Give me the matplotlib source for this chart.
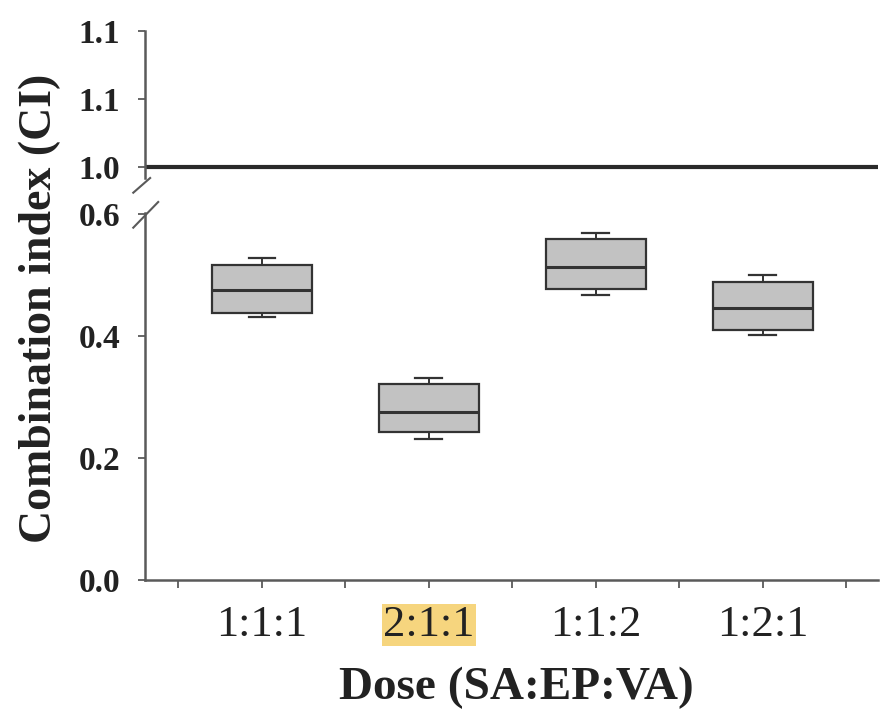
import matplotlib
matplotlib.use("Agg")
import matplotlib.pyplot as plt
import numpy as np

plt.rcParams['font.family'] = ['Liberation Serif', 'DejaVu Serif']

# box plot values
doses = ['1:1:1', '2:1:1', '1:1:2', '1:2:1']
med = [0.475, 0.276, 0.514, 0.446]
q1 = [0.438, 0.243, 0.478, 0.410]
q3 = [0.517, 0.321, 0.559, 0.489]
whislo = [0.431, 0.231, 0.468, 0.402]
whishi = [0.528, 0.332, 0.570, 0.500]

low_ticks = [0.0, 0.2, 0.4, 0.6]
low_labels = ['0.0', '0.2', '0.4', '0.6']
up_ticks = [1.0, 1.05, 1.1]
up_labels = ['1.0', '1.1', '1.1']
ci_line = 1.0
highlight = '2:1:1'

spine_col = '#5a5a5a'
W, H = 892, 711
fig = plt.figure(figsize=(W / 100, H / 100), dpi=100)

def px_axes(x0, x1, y0, y1):
    # pixel box (top-left origin) -> figure fraction
    return fig.add_axes([x0 / W, 1 - y1 / H, (x1 - x0) / W, (y1 - y0) / H])

ax_lo = px_axes(145, 878, 213, 580)
ax_up = px_axes(145, 878, 31, 178)

pos = np.arange(1, len(doses) + 1)
stats = []
for i in range(len(doses)):
    stats.append(dict(med=med[i], q1=q1[i], q3=q3[i],
                      whislo=whislo[i], whishi=whishi[i], fliers=[]))

ax_lo.bxp(stats, positions=pos, widths=0.6, patch_artist=True,
          showfliers=False, capwidths=0.16,
          boxprops=dict(facecolor='#c2c2c2', edgecolor='#333333', linewidth=1.6),
          medianprops=dict(color='#333333', linewidth=2.2),
          whiskerprops=dict(color='#333333', linewidth=1.4),
          capprops=dict(color='#333333', linewidth=1.6))

xlim = (0.30, 4.69)
for ax in (ax_lo, ax_up):
    ax.set_xlim(*xlim)
    ax.spines['top'].set_visible(False)
    ax.spines['right'].set_visible(False)
    ax.spines['left'].set_color(spine_col)
    ax.spines['left'].set_linewidth(1.8)
    ax.tick_params(axis='y', direction='out', length=5, width=1.3,
                   color=spine_col, labelsize=24, pad=13, labelcolor='#222222')

ax_lo.spines['bottom'].set_color(spine_col)
ax_lo.spines['bottom'].set_linewidth(1.8)
ax_lo.set_ylim(0, 0.602)
ax_lo.set_yticks(low_ticks)
ax_lo.set_yticklabels(low_labels, fontweight='bold')
ax_lo.set_xticks(pos)
ax_lo.set_xticklabels(doses, fontsize=32, color='#222222')
ax_lo.set_xticks(np.arange(0.5, len(doses) + 1, 1.0), minor=True)
ax_lo.tick_params(axis='x', which='both', direction='out', length=6, width=1.3,
                  color=spine_col, pad=12)
for lab in ax_lo.get_xticklabels():
    if lab.get_text() == highlight:
        lab.set_bbox(dict(facecolor='#f6d57e', edgecolor='none', pad=1.0))

ax_up.spines['bottom'].set_visible(False)
ax_up.set_ylim(0.992, 1.1)
ax_up.set_yticks(up_ticks)
ax_up.set_yticklabels(up_labels, fontweight='bold')
ax_up.set_xticks([])
ax_up.axhline(ci_line, color='#2a2a2a', linewidth=3)

# break marks on the y axis
kw = dict(color=spine_col, linewidth=1.5, clip_on=False)
ax_up.plot([-0.016, 0.007], [-0.10, 0.0], transform=ax_up.transAxes, **kw)
ax_lo.plot([-0.016, 0.018], [0.96, 1.03], transform=ax_lo.transAxes, **kw)

fig.text(40 / W, 1 - 308 / H, 'Combination index (CI)', rotation=90,
         fontsize=33, fontweight='bold', ha='center', va='center', color='#222222')
fig.text(516 / W, 1 - 688 / H, 'Dose (SA:EP:VA)', fontsize=34,
         fontweight='bold', ha='center', va='center', color='#222222')

fig.savefig('out.png', dpi=100)
